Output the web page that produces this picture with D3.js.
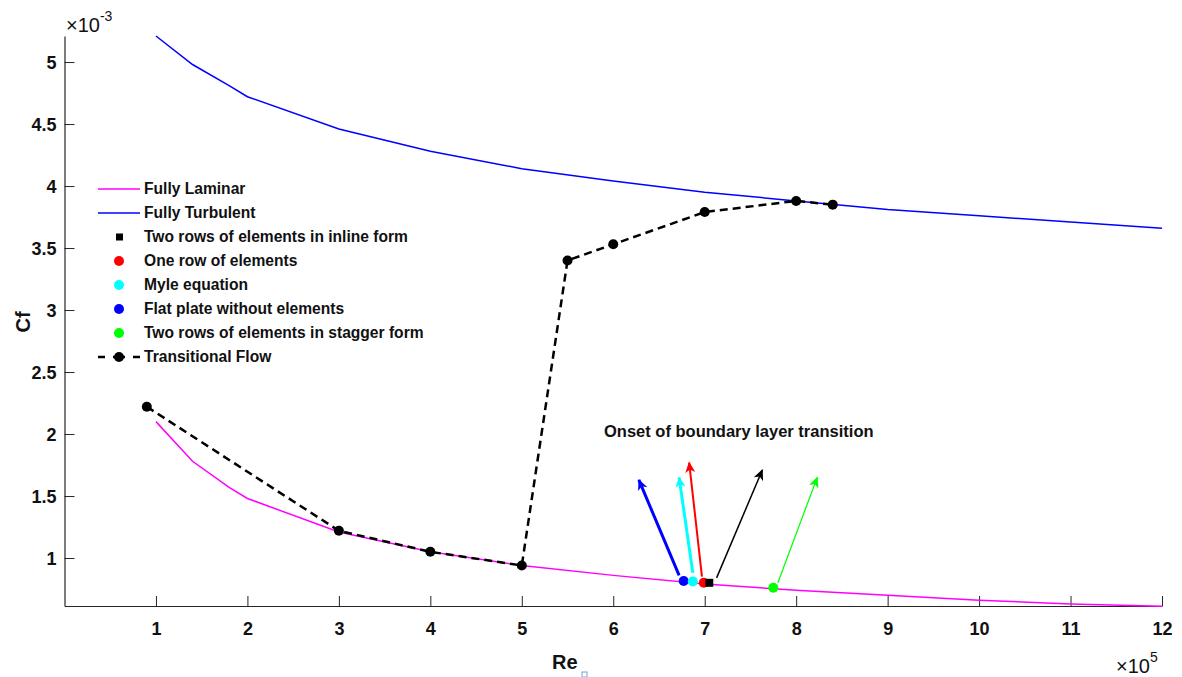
<!DOCTYPE html>
<html>
<head>
<meta charset="utf-8">
<script src="https://cdn.jsdelivr.net/npm/d3@7"></script>
<style>
  body { margin: 0; background: #fff; }
  text { font-family: "Liberation Sans", Arial, sans-serif; }
</style>
</head>
<body>
<div id="chart"></div>
<script>
// Re values (x 10^5) where the two reference curves are sampled
var reX = [1, 1.4, 1.8, 2, 3, 4, 5, 6, 7, 8, 9, 10, 11, 12];
// Cf values (x 10^-3)
var laminar   = [2.10, 1.78, 1.57, 1.48, 1.21, 1.05, 0.94, 0.86, 0.79, 0.74, 0.70, 0.66, 0.63, 0.61];
var turbulent = [5.21, 4.98, 4.81, 4.72, 4.46, 4.28, 4.14, 4.04, 3.95, 3.88, 3.81, 3.76, 3.71, 3.66];

// transitional flow measurements
var transX = [0.9, 3, 4, 5, 5.5, 6, 7, 8, 8.4];
var transY = [2.22, 1.22, 1.05, 0.94, 3.40, 3.53, 3.79, 3.88, 3.85];

// onset points: flat plate, Myle, one row, inline, stagger
var onsetNames  = ["Flat plate without elements", "Myle equation", "One row of elements",
                   "Two rows of elements in inline form", "Two rows of elements in stagger form"];
var onsetColors = ["#0000ff", "#00ffff", "#ff0000", "#000000", "#00ff00"];
var onsetX      = [6.77, 6.87, 6.99, 7.05, 7.75];
var onsetY      = [0.815, 0.81, 0.80, 0.80, 0.76];

// arrows pointing at the onset points (tail -> head)
var arrowFromX = [6.72, 6.87, 6.97, 7.13, 7.80];
var arrowFromY = [0.86, 0.88, 0.85, 0.84, 0.80];
var arrowToX   = [6.28, 6.72, 6.83, 7.63, 8.23];
var arrowToY   = [1.63, 1.65, 1.77, 1.71, 1.65];
var arrowWidth = [3, 3, 2, 1.5, 1.2];

var xTicks = [1, 2, 3, 4, 5, 6, 7, 8, 9, 10, 11, 12];
var yTicks = [1, 1.5, 2, 2.5, 3, 3.5, 4, 4.5, 5];

var legendLabels = ["Fully Laminar", "Fully Turbulent", "Two rows of elements in inline form",
                    "One row of elements", "Myle equation", "Flat plate without elements",
                    "Two rows of elements in stagger form", "Transitional Flow"];
var legendKinds  = ["line", "line", "square", "dot", "dot", "dot", "dot", "dash"];
var legendColors = ["#ff00ff", "#0000ff", "#000000", "#ff0000", "#00ffff", "#0000ff", "#00ff00", "#000000"];

var width = 1182, height = 677;

var svg = d3.select("#chart").append("svg")
    .attr("width", width)
    .attr("height", height);

var x = d3.scaleLinear().domain([0, 12]).range([64.5, 1162]);
var y = d3.scaleLinear().domain([0.613, 5.21]).range([606, 36]);

// axes, ticks pointing inward like matlab
var xAxis = d3.axisBottom(x).tickValues(xTicks).tickSizeInner(-10).tickSizeOuter(0).tickPadding(16);
var yAxis = d3.axisLeft(y).tickValues(yTicks).tickFormat(d3.format("~g"))
    .tickSizeInner(-10).tickSizeOuter(0).tickPadding(8);

var gx = svg.append("g").attr("transform", "translate(0,606)").call(xAxis);
var gy = svg.append("g").attr("transform", "translate(64.5,0)").call(yAxis);

[gx, gy].forEach(function(g) {
    g.select(".domain").attr("stroke", "#262626").attr("stroke-width", 1.2);
    g.selectAll(".tick line").attr("stroke", "#262626");
    g.selectAll(".tick text")
        .attr("font-size", 18)
        .attr("font-weight", "bold")
        .attr("fill", "#111")
        .style("font-family", "'Liberation Sans', Arial, sans-serif");
});
gy.selectAll(".tick text").attr("dy", "0.36em");

// exponent labels
var e3 = svg.append("text").attr("x", 66).attr("y", 32).attr("font-size", 20).attr("fill", "#111");
e3.append("tspan").text("\u00d710");
e3.append("tspan").attr("dy", -11).attr("font-size", 14).text("-3");

var e5 = svg.append("text").attr("x", 1116).attr("y", 673).attr("font-size", 20).attr("fill", "#111");
e5.append("tspan").text("\u00d710");
e5.append("tspan").attr("dy", -11).attr("font-size", 14).text("5");

// axis titles
svg.append("text")
    .attr("transform", "translate(30,322) rotate(-90)")
    .attr("text-anchor", "middle")
    .attr("font-size", 20)
    .attr("font-weight", "bold")
    .attr("fill", "#111")
    .text("Cf");

svg.append("text")
    .attr("x", 552).attr("y", 669)
    .attr("font-size", 20)
    .attr("font-weight", "bold")
    .attr("fill", "#111")
    .text("Re");
// missing subscript glyph box
svg.append("rect")
    .attr("x", 582).attr("y", 672).attr("width", 5).attr("height", 5)
    .attr("fill", "none").attr("stroke", "#6fa8dc").attr("stroke-width", 1);

var line = d3.line()
    .x(function(d) { return x(d[0]); })
    .y(function(d) { return y(d[1]); });

svg.append("path")
    .datum(d3.zip(reX, laminar))
    .attr("fill", "none")
    .attr("stroke", "#ff00ff")
    .attr("stroke-width", 1.5)
    .attr("d", line);

svg.append("path")
    .datum(d3.zip(reX, turbulent))
    .attr("fill", "none")
    .attr("stroke", "#0000ff")
    .attr("stroke-width", 1.5)
    .attr("d", line);

var trans = d3.zip(transX, transY);
svg.append("path")
    .datum(trans)
    .attr("fill", "none")
    .attr("stroke", "#000")
    .attr("stroke-width", 2.5)
    .attr("stroke-dasharray", "8,5")
    .attr("d", line);

svg.append("g").selectAll("circle")
    .data(trans)
    .enter()
    .append("circle")
    .attr("cx", function(d) { return x(d[0]); })
    .attr("cy", function(d) { return y(d[1]); })
    .attr("r", 5)
    .attr("fill", "#000");

// arrowheads
var defs = svg.append("defs");
onsetColors.forEach(function(c, i) {
    defs.append("marker")
        .attr("id", "arrow" + i)
        .attr("viewBox", "0 0 12 12")
        .attr("refX", 10).attr("refY", 6)
        .attr("markerWidth", 12).attr("markerHeight", 12)
        .attr("markerUnits", "userSpaceOnUse")
        .attr("orient", "auto")
        .append("path")
        .attr("d", "M0,1 L11,6 L0,11 L3,6 Z")
        .attr("fill", c);
});

svg.append("g").selectAll("line")
    .data(onsetColors)
    .enter()
    .append("line")
    .attr("x1", function(d, i) { return x(arrowFromX[i]); })
    .attr("y1", function(d, i) { return y(arrowFromY[i]); })
    .attr("x2", function(d, i) { return x(arrowToX[i]); })
    .attr("y2", function(d, i) { return y(arrowToY[i]); })
    .attr("stroke", function(d) { return d; })
    .attr("stroke-width", function(d, i) { return arrowWidth[i]; })
    .attr("marker-end", function(d, i) { return "url(#arrow" + i + ")"; });

// onset markers
var onset = svg.append("g");
onsetColors.forEach(function(c, i) {
    if (i === 3) {
        onset.append("rect")
            .attr("x", x(onsetX[i]) - 4).attr("y", y(onsetY[i]) - 4)
            .attr("width", 8).attr("height", 8)
            .attr("fill", c);
    } else {
        onset.append("circle")
            .attr("cx", x(onsetX[i])).attr("cy", y(onsetY[i]))
            .attr("r", 5)
            .attr("fill", c);
    }
});

svg.append("text")
    .attr("x", 604).attr("y", 437)
    .attr("font-size", 16.5)
    .attr("font-weight", "bold")
    .attr("fill", "#111")
    .text("Onset of boundary layer transition");

// legend
var legend = svg.append("g");
legendLabels.forEach(function(label, i) {
    var ly = 189 + i * 24;
    var kind = legendKinds[i], c = legendColors[i];
    if (kind === "line") {
        legend.append("line")
            .attr("x1", 98).attr("x2", 140).attr("y1", ly).attr("y2", ly)
            .attr("stroke", c).attr("stroke-width", 1.5);
    } else if (kind === "square") {
        legend.append("rect")
            .attr("x", 116).attr("y", ly - 3.5).attr("width", 7).attr("height", 7)
            .attr("fill", c);
    } else if (kind === "dot") {
        legend.append("circle")
            .attr("cx", 119).attr("cy", ly).attr("r", 5).attr("fill", c);
    } else {
        legend.append("line")
            .attr("x1", 98).attr("x2", 140).attr("y1", ly).attr("y2", ly)
            .attr("stroke", c).attr("stroke-width", 2.5).attr("stroke-dasharray", "7,8,12,8,7");
        legend.append("circle")
            .attr("cx", 119).attr("cy", ly).attr("r", 5).attr("fill", c);
    }
    legend.append("text")
        .attr("x", 144).attr("y", ly)
        .attr("dy", "0.35em")
        .attr("font-size", 15.6)
        .attr("font-weight", "bold")
        .attr("fill", "#111")
        .text(label);
});
</script>
</body>
</html>
